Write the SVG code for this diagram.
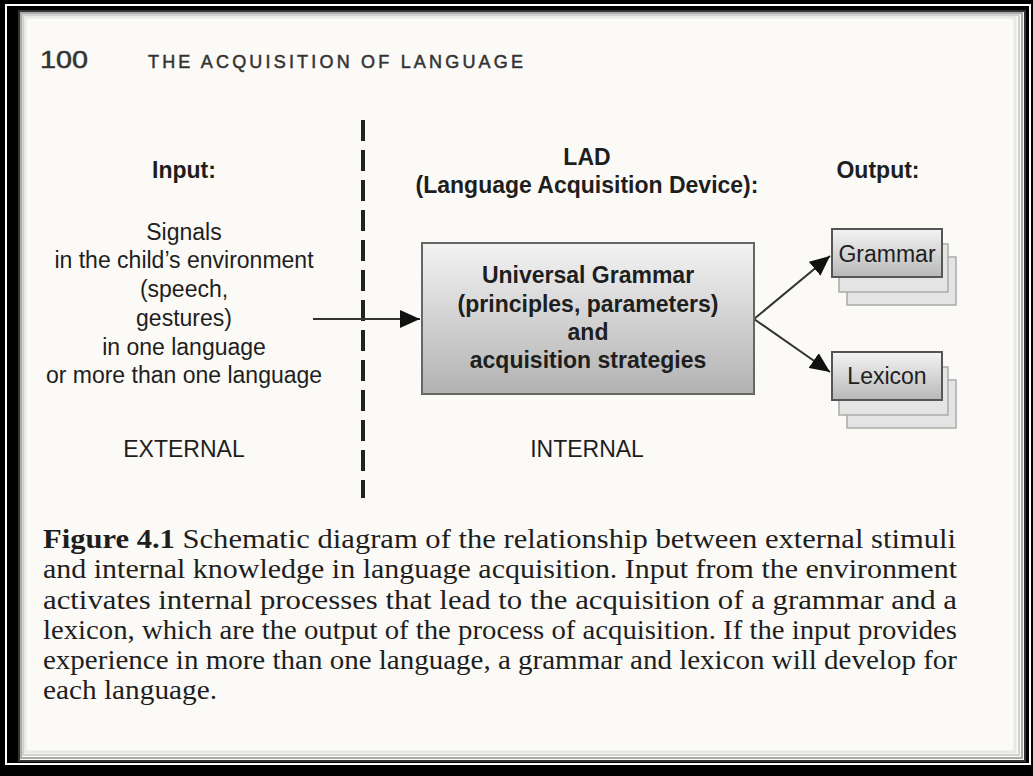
<svg xmlns="http://www.w3.org/2000/svg" width="1033" height="776" viewBox="0 0 1033 776">
<defs>
<style>
.sans{font-family:"Liberation Sans",Arial,sans-serif;fill:#1e1e1e;font-size:23px;text-anchor:middle}
.b{font-weight:bold}
.cap{font-family:"Liberation Serif","Times New Roman",serif;fill:#1e1e1e;font-size:27px}
.conn{stroke:#333;stroke-width:2;fill:none}
.back{fill:#e4e4e4;stroke:#aaa;stroke-width:1.5}
.front{fill:url(#g2);stroke:#555;stroke-width:2}
</style>
<linearGradient id="g1" x1="0" y1="0" x2="0" y2="1">
<stop offset="0" stop-color="#f3f3f3"/>
<stop offset="1" stop-color="#b2b2b2"/>
</linearGradient>
<linearGradient id="g2" x1="0" y1="0" x2="0" y2="1">
<stop offset="0" stop-color="#f4f4f4"/>
<stop offset="1" stop-color="#b8b8b8"/>
</linearGradient>
<marker id="arr" viewBox="0 0 20 18" refX="20" refY="9" markerWidth="20" markerHeight="18" markerUnits="userSpaceOnUse" orient="auto">
<path d="M0,0 L20,9 L0,18 z" fill="#111"/>
</marker>
</defs>

<!-- frame -->
<rect x="0" y="0" width="1033" height="776" fill="#000"/>
<rect x="6" y="5" width="1024" height="759" fill="none" stroke="#fff" stroke-width="2"/>
<rect x="18" y="10" width="1008" height="752" fill="#fbfaf6"/>
<rect x="19" y="11" width="1006" height="750" fill="none" stroke="#333" stroke-width="2"/>
<rect x="21" y="13" width="1001" height="745" fill="none" stroke="#777" stroke-width="2" opacity="0.6"/>
<rect x="23" y="15" width="996" height="740" fill="none" stroke="#aaa" stroke-width="2" opacity="0.5"/>
<rect x="25" y="17" width="990" height="735" fill="none" stroke="#ccc" stroke-width="3" opacity="0.4"/>

<!-- header -->
<text x="40" y="68" font-family="'Liberation Sans',Arial,sans-serif" font-size="24" fill="#333" stroke="#333" stroke-width="0.5" textLength="48" lengthAdjust="spacingAndGlyphs">100</text>
<text x="148" y="68" font-family="'Liberation Sans',Arial,sans-serif" font-size="18" fill="#333" stroke="#333" stroke-width="0.5" textLength="375" lengthAdjust="spacing">THE ACQUISITION OF LANGUAGE</text>

<!-- connectors -->
<g id="connectors">
<line x1="363" y1="120" x2="363" y2="498" stroke="#222" stroke-width="4" stroke-dasharray="21 9"/>
<line class="conn" x1="313" y1="319" x2="420" y2="319" marker-end="url(#arr)"/>
<line class="conn" x1="754" y1="319" x2="830" y2="256" marker-end="url(#arr)"/>
<line class="conn" x1="754" y1="319" x2="830" y2="372" marker-end="url(#arr)"/>
</g>

<!-- input -->
<g id="input">
<text class="sans b" x="184" y="178">Input:</text>
<text class="sans" x="184" y="240">Signals</text>
<text class="sans" x="184" y="268">in the child’s environment</text>
<text class="sans" x="184" y="297">(speech,</text>
<text class="sans" x="184" y="326">gestures)</text>
<text class="sans" x="184" y="355">in one language</text>
<text class="sans" x="184" y="383">or more than one language</text>
<text class="sans" x="184" y="457">EXTERNAL</text>
</g>

<!-- LAD -->
<g id="lad">
<text class="sans b" x="587" y="165">LAD</text>
<text class="sans b" x="587" y="193">(Language Acquisition Device):</text>
<rect x="422" y="243" width="332" height="151" fill="url(#g1)" stroke="#666" stroke-width="2"/>
<text class="sans b" x="588" y="283">Universal Grammar</text>
<text class="sans b" x="588" y="312">(principles, parameters)</text>
<text class="sans b" x="588" y="340">and</text>
<text class="sans b" x="588" y="368">acquisition strategies</text>
<text class="sans" x="587" y="457">INTERNAL</text>
</g>

<!-- output -->
<g id="output">
<text class="sans b" x="878" y="178">Output:</text>
</g>
<g id="grammar">
<rect class="back" x="847" y="257" width="109" height="48"/>
<rect class="back" x="839" y="244" width="109" height="48"/>
<rect class="front" x="832" y="229" width="110" height="48"/>
<text class="sans" x="887" y="262">Grammar</text>
</g>
<g id="lexicon">
<rect class="back" x="847" y="380" width="109" height="48"/>
<rect class="back" x="839" y="367" width="109" height="48"/>
<rect class="front" x="832" y="352" width="110" height="48"/>
<text class="sans" x="887" y="384">Lexicon</text>
</g>

<!-- caption -->
<g id="caption">
<text class="cap" x="43" y="548" textLength="913" lengthAdjust="spacingAndGlyphs"><tspan font-weight="bold">Figure 4.1</tspan>   Schematic diagram of the relationship between external stimuli</text>
<text class="cap" x="43" y="578" textLength="914" lengthAdjust="spacingAndGlyphs">and internal knowledge in language acquisition. Input from the environment</text>
<text class="cap" x="43" y="609" textLength="914" lengthAdjust="spacingAndGlyphs">activates internal processes that lead to the acquisition of a grammar and a</text>
<text class="cap" x="43" y="639" textLength="914" lengthAdjust="spacingAndGlyphs">lexicon, which are the output of the process of acquisition. If the input provides</text>
<text class="cap" x="43" y="669" textLength="914" lengthAdjust="spacingAndGlyphs">experience in more than one language, a grammar and lexicon will develop for</text>
<text class="cap" x="43" y="699" textLength="174" lengthAdjust="spacingAndGlyphs">each language.</text>
</g>
</svg>
